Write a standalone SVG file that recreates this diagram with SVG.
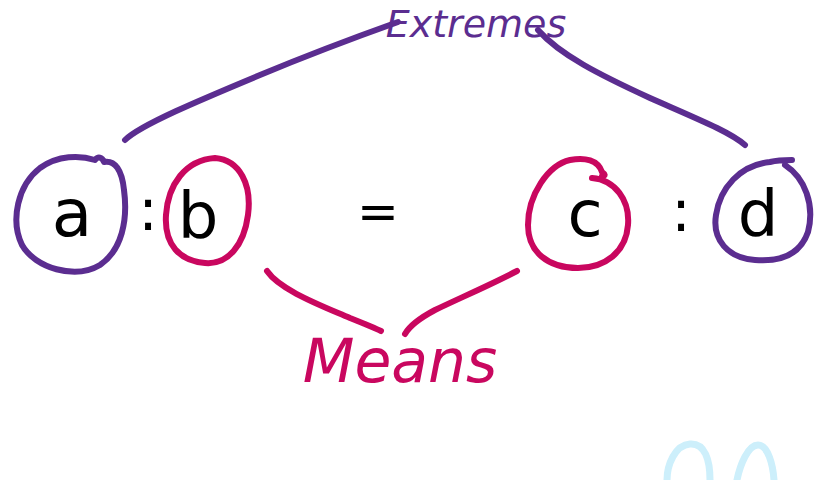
<svg xmlns="http://www.w3.org/2000/svg" width="817" height="480" viewBox="0 0 817 480">
<style>
.pur{fill:none;stroke:#5b2d90;stroke-width:6;stroke-linecap:round;stroke-linejoin:round}
.mag{fill:none;stroke:#c9075f;stroke-width:6;stroke-linecap:round;stroke-linejoin:round}
.blu{fill:none;stroke:#cdeffb;stroke-width:7;stroke-linecap:round}
.let{font-family:"DejaVu Sans",sans-serif;fill:#000;text-anchor:middle}
.col{font-family:"DejaVu Sans",sans-serif;fill:#000;text-anchor:middle}
</style>
<rect width="817" height="480" fill="#fff"/>
<g id="connectors">
<path class="pur" d="M125,140 C140,125 200,100 260,75 C320,50 370,32 398,22"/>
<path class="pur" d="M538,30 C560,55 600,75 650,98 C700,120 730,132 745,145"/>
<path class="mag" d="M267,271 C280,290 320,305 350,318 C365,324 375,328 381,331"/>
<path class="mag" d="M517,271 C490,285 460,298 435,310 C420,318 410,325 405,334"/>
</g>
<g id="extremes">
<text x="476" y="37" font-family="DejaVu Sans,sans-serif" font-size="38" fill="#5b2d90" text-anchor="middle" font-style="italic">Extremes</text>
</g>
<g id="node-a">
<path class="pur" d="M104,162 C115,160 122,170 124,190 C128,220 122,250 100,265 C75,280 35,268 22,245 C10,220 18,185 40,168 C58,155 80,155 95,160 C98,156 102,157 104,162 Z"/>
<text class="let" x="72" y="236" font-size="66">a</text>
</g>
<g id="colon1">
<text class="col" x="148" y="230" font-size="58">:</text>
</g>
<g id="node-b">
<path class="mag" d="M215,158 C240,160 252,185 248,215 C244,245 228,265 205,263 C180,261 164,245 166,215 C168,185 185,160 215,158 Z"/>
<text class="let" x="198" y="238" font-size="64">b</text>
</g>
<g id="equals">
<text class="let" x="378" y="229" font-size="50">=</text>
</g>
<g id="node-c">
<path class="mag" d="M592,178 C615,180 630,200 628,225 C626,252 605,268 578,268 C548,268 528,252 528,225 C528,195 548,165 570,160 C585,157 598,160 602,172 C605,174 606,176 602,176"/>
<text class="let" x="585" y="236" font-size="64">c</text>
</g>
<g id="colon2">
<text class="col" x="681" y="231" font-size="58">:</text>
</g>
<g id="node-d">
<path class="pur" d="M785,165 C805,178 815,205 808,232 C800,255 780,262 755,260 C728,258 712,240 716,215 C720,188 740,165 770,162 C778,160 785,160 792,160"/>
<text class="let" x="758" y="236" font-size="64">d</text>
</g>
<g id="means">
<text x="400" y="382" font-family="DejaVu Sans,sans-serif" font-size="60" fill="#c9075f" text-anchor="middle" font-style="italic">Means</text>
</g>
<g id="blue-marks">
<path class="blu" d="M667,480 C667,465 675,445 690,444 C705,443 710,460 710,480"/>
<path class="blu" d="M737,480 C740,465 748,445 758,445 C768,445 773,465 774,480"/>
</g>
</svg>
